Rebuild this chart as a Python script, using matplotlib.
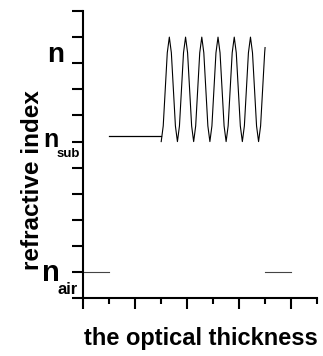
import matplotlib
matplotlib.use('Agg')
import matplotlib.pyplot as plt
from matplotlib.ticker import MultipleLocator

plt.rcParams['font.family'] = ['Liberation Sans', 'DejaVu Sans']

# air on both sides of the stack
air_left_x = [0.0, 1.0]
air_right_x = [7.0, 8.0]
air_n = [1.0, 1.0]

# substrate
sub_x = [1.0, 3.0]
sub_n = [6.2, 6.2]

# rugate layer, index every 1/8 period
osc_x = [3.000, 3.078, 3.156, 3.234, 3.313, 3.391, 3.469, 3.547,
         3.625, 3.703, 3.781, 3.859, 3.938, 4.016, 4.094, 4.172,
         4.250, 4.328, 4.406, 4.484, 4.563, 4.641, 4.719, 4.797,
         4.875, 4.953, 5.031, 5.109, 5.188, 5.266, 5.344, 5.422,
         5.500, 5.578, 5.656, 5.734, 5.813, 5.891, 5.969, 6.047,
         6.125, 6.203, 6.281, 6.359, 6.438, 6.516, 6.594, 6.672,
         6.750, 6.828, 6.906, 6.984, 7.000]
osc_n = [6.0, 6.6, 8.0, 9.4, 10.0, 9.4, 8.0, 6.6,
         6.0, 6.6, 8.0, 9.4, 10.0, 9.4, 8.0, 6.6,
         6.0, 6.6, 8.0, 9.4, 10.0, 9.4, 8.0, 6.6,
         6.0, 6.6, 8.0, 9.4, 10.0, 9.4, 8.0, 6.6,
         6.0, 6.6, 8.0, 9.4, 10.0, 9.4, 8.0, 6.6,
         6.0, 6.6, 8.0, 9.4, 10.0, 9.4, 8.0, 6.6,
         6.0, 6.6, 8.0, 9.4, 9.6]

W, H = 323, 356
fig = plt.figure(figsize=(W / 100, H / 100), dpi=100)
ax = fig.add_axes([83.3 / W, 1 - 298.3 / H, (317 - 83.3) / W, (298.3 - 11) / H])

ax.plot(air_left_x, air_n, color='#444444', lw=0.8)
ax.plot(air_right_x, air_n, color='#444444', lw=0.8)
ax.plot(sub_x, sub_n, color='black', lw=0.9)
ax.plot(osc_x, osc_n, color='black', lw=0.8, solid_joinstyle='round')

ax.set_xlim(0, 9)
ax.set_ylim(0, 11)
ax.spines['top'].set_visible(False)
ax.spines['right'].set_visible(False)
for s in ('left', 'bottom'):
    ax.spines[s].set_linewidth(1.5)

ax.xaxis.set_major_locator(MultipleLocator(2))
ax.xaxis.set_minor_locator(MultipleLocator(1))
ax.yaxis.set_major_locator(MultipleLocator(1))
ax.tick_params(axis='x', which='major', direction='out', length=8, width=1.5, labelbottom=False)
ax.tick_params(axis='x', which='minor', direction='out', length=4.5, width=1.5)
ax.tick_params(axis='y', which='major', direction='out', length=8, width=1.5, labelleft=False)


def ftext(x, y, s, **kw):
    # place text by pixel position in the figure
    fig.text(x / W, 1 - y / H, s, fontweight='bold', **kw)


ftext(55.5, 62, 'n', fontsize=20, ha='center', va='baseline')
ftext(51, 147, 'n', fontsize=18, ha='center', va='baseline')
ftext(56.5, 157, 'sub', fontsize=9.5, ha='left', va='baseline')
ftext(50.5, 281, 'n', fontsize=21, ha='center', va='baseline')
ftext(58, 294, 'air', fontsize=12, ha='left', va='baseline')

ftext(32.5, 180, 'refractive index', fontsize=17.5, rotation=90, ha='center', va='center')
ftext(201, 345, 'the optical thickness', fontsize=17, ha='center', va='baseline')

fig.savefig('out.png', dpi=100)
